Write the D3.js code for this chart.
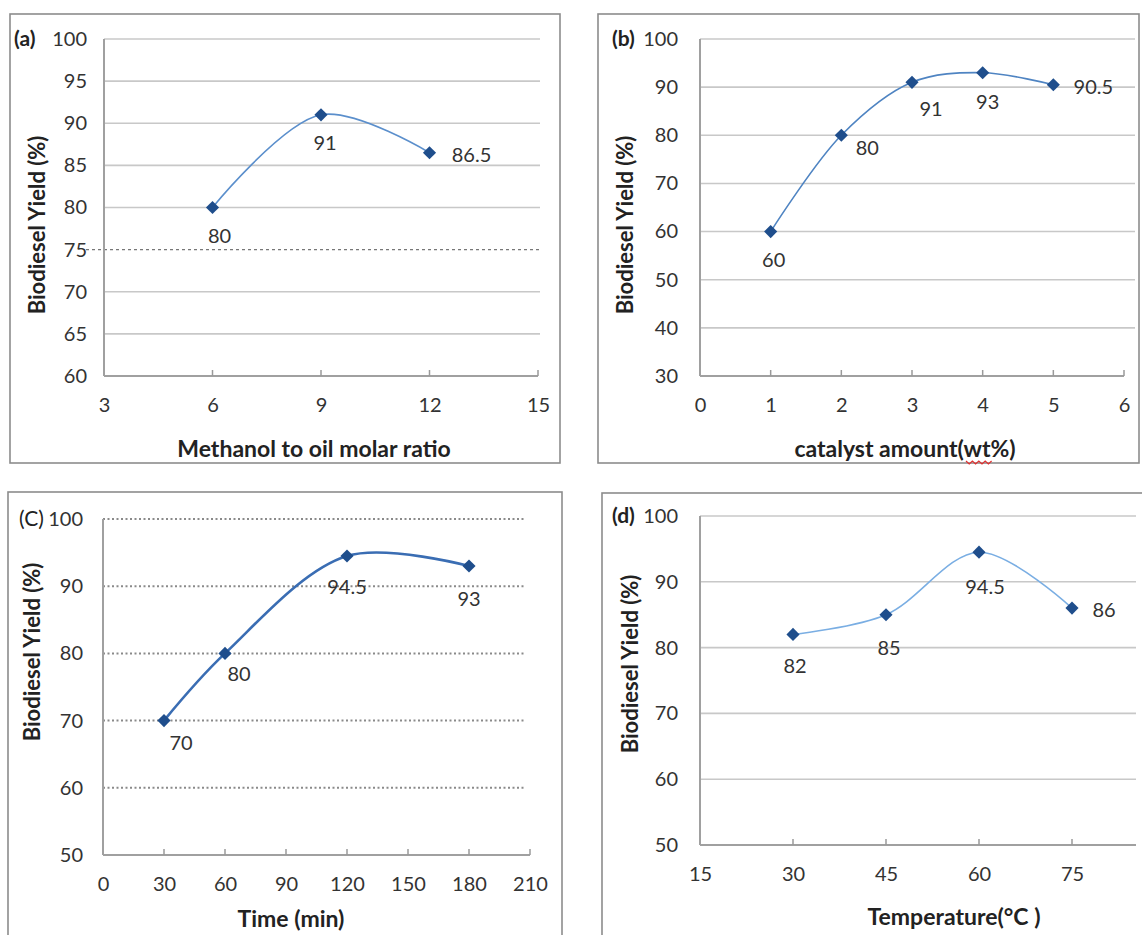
<!DOCTYPE html>
<html><head><meta charset="utf-8">
<script src="https://cdn.jsdelivr.net/npm/d3@7"></script>
<style>
html,body{margin:0;padding:0;background:#fff;}
svg{display:block;}
text{font-family:Lato, "Open Sans", sans-serif;}
</style></head>
<body>
<svg id="chart" width="1142" height="935"></svg>
<script>
// ---- Data ----
const panelTags = ["(a)", "(b)", "(C)", "(d)"];
const xTitles = ["Methanol to oil molar ratio", "catalyst amount(wt%)", "Time (min)", "Temperature(\u00B0C )"];
const yTitle = "Biodiesel Yield (%)";

const xA = [6, 9, 12];
const yA = [80, 91, 86.5];
const xTicksA = [3, 6, 9, 12, 15];
const yTicksA = [60, 65, 70, 75, 80, 85, 90, 95, 100];

const xB = [1, 2, 3, 4, 5];
const yB = [60, 80, 91, 93, 90.5];
const xTicksB = [0, 1, 2, 3, 4, 5, 6];
const yTicksB = [30, 40, 50, 60, 70, 80, 90, 100];

const xC = [30, 60, 120, 180];
const yC = [70, 80, 94.5, 93];
const xTicksC = [0, 30, 60, 90, 120, 150, 180, 210];
const yTicksC = [50, 60, 70, 80, 90, 100];

const xD = [30, 45, 60, 75];
const yD = [82, 85, 94.5, 86];
const xTicksD = [15, 30, 45, 60, 75, 90];
const yTicksD = [50, 60, 70, 80, 90, 100];

// data-label placement (style: pixel offsets of label centre from its point)
const labOffA = [[7, 28], [4, 28], [42, 2]];
const labOffB = [[3, 28], [26, 13], [19, 27], [5, 29], [40, 2]];
const labOffC = [[17, 22], [14, 21], [0, 31], [0, 33]];
const labOffD = [[2, 32], [3, 33], [6, 35], [32, 2]];

// ---- Layout ----
const panels = [
  {tag: panelTags[0], xs: xA, ys: yA, xt: xTicksA, yt: yTicksA, off: labOffA, xTitle: xTitles[0],
   box: [10, 14, 560, 463], px: [104, 538], py: [376, 39], gridEnd: 540, xTitleX: 314, xTitleY: 457,
   yTitleX: 45, yTitleY: 225, tagX: 14, tagBold: true, yPad: 17, color: "#5b8fcc", lw: 1.6, dashed: [75], dottedAll: false, clipX: null},
  {tag: panelTags[1], xs: xB, ys: yB, xt: xTicksB, yt: yTicksB, off: labOffB, xTitle: xTitles[1],
   box: [598, 14, 1139, 463], px: [700, 1124], py: [376, 39], gridEnd: 1135, xTitleX: 905, xTitleY: 457,
   yTitleX: 633, yTitleY: 225, tagX: 612, tagBold: true, yPad: 22, color: "#4f84c2", lw: 1.6, dashed: [], dottedAll: false, clipX: null},
  {tag: panelTags[2], xs: xC, ys: yC, xt: xTicksC, yt: yTicksC, off: labOffC, xTitle: xTitles[2],
   box: [8, 492, 562, 945], px: [103, 530], py: [855, 519], gridEnd: 525, xTitleX: 291, xTitleY: 927,
   yTitleX: 40, yTitleY: 652, tagX: 19, tagBold: false, yPad: 20, color: "#3a6db3", lw: 2.6, dashed: [], dottedAll: true, clipX: null},
  {tag: panelTags[3], xs: xD, ys: yD, xt: xTicksD, yt: yTicksD, off: labOffD, xTitle: xTitles[3],
   box: [602, 493, 1150, 945], px: [700, 1165], py: [845, 516], gridEnd: 1136, xTitleX: 954, xTitleY: 925,
   yTitleX: 638, yTitleY: 664, tagX: 612, tagBold: true, yPad: 22, color: "#7aaee3", lw: 1.6, dashed: [], dottedAll: false, clipX: 1136}
];

const FS = 20;
const svg = d3.select("#chart");

panels.forEach((p) => {
  const g = svg.append("g");
  const x = d3.scaleLinear().domain(d3.extent(p.xt)).range(p.px);
  const y = d3.scaleLinear().domain(d3.extent(p.yt)).range(p.py);

  // frame
  g.append("rect").attr("x", p.box[0]).attr("y", p.box[1])
    .attr("width", p.box[2] - p.box[0]).attr("height", p.box[3] - p.box[1])
    .attr("fill", "none").attr("stroke", "#8c8c8c").attr("stroke-width", 1.6);

  const axisRight = p.clipX ? p.clipX : x.range()[1];

  // gridlines
  p.yt.forEach(v => {
    if (v === y.domain()[0]) return;
    const isDash = p.dashed.includes(v);
    const line = g.append("line")
      .attr("x1", isDash ? p.px[0] - 18 : p.px[0]).attr("x2", p.gridEnd)
      .attr("y1", y(v)).attr("y2", y(v));
    if (p.dottedAll) {
      line.attr("stroke", "#8a8a8a").attr("stroke-width", 2).attr("stroke-dasharray", "2,2.5");
    } else if (isDash) {
      line.attr("stroke", "#777").attr("stroke-width", 1.2).attr("stroke-dasharray", "3,3");
    } else {
      line.attr("stroke", "#c8c8c8").attr("stroke-width", 1.6);
    }
  });

  // y axis
  const yAxis = d3.axisLeft(y).tickValues(p.yt).tickSize(0).tickPadding(p.yPad).tickFormat(d3.format("d"));
  const ya = g.append("g").attr("transform", `translate(${p.px[0]},0)`).call(yAxis);
  ya.select(".domain").remove();
  ya.selectAll("text").attr("font-size", FS).attr("fill", "#333").attr("font-family", "Lato, sans-serif");
  g.append("line").attr("x1", p.px[0]).attr("x2", p.px[0]).attr("y1", p.py[1]).attr("y2", p.py[0])
    .attr("stroke", "#a0a0a0").attr("stroke-width", 2);

  // x axis
  const xAxis = d3.axisBottom(x).tickValues(p.xt.filter(v => x(v) <= axisRight + 1)).tickSize(0).tickPadding(22).tickFormat(d3.format("d"));
  const xa = g.append("g").attr("transform", `translate(0,${p.py[0]})`).call(xAxis);
  xa.select(".domain").remove();
  xa.selectAll("text").attr("font-size", FS).attr("fill", "#333").attr("font-family", "Lato, sans-serif");
  g.append("line").attr("x1", p.px[0]).attr("x2", axisRight).attr("y1", p.py[0]).attr("y2", p.py[0])
    .attr("stroke", "#a0a0a0").attr("stroke-width", 2);
  p.xt.forEach(v => {
    if (x(v) <= p.px[0] + 1 || x(v) > axisRight + 1) return;
    g.append("line").attr("x1", x(v)).attr("x2", x(v)).attr("y1", p.py[0] - 6).attr("y2", p.py[0])
      .attr("stroke", "#9a9a9a").attr("stroke-width", 1.5);
  });

  // panel tag
  g.append("text").attr("x", p.tagX).attr("y", y(y.domain()[1])).attr("dy", "0.32em")
    .attr("font-size", 21).attr("font-weight", p.tagBold ? "bold" : "normal").attr("fill", "#222").text(p.tag);

  // titles
  g.append("text").attr("x", p.xTitleX).attr("y", p.xTitleY)
    .attr("text-anchor", "middle").attr("font-size", 23).attr("font-weight", "bold").attr("fill", "#222")
    .text(p.xTitle);
  g.append("text").attr("transform", `translate(${p.yTitleX},${p.yTitleY}) rotate(-90)`)
    .attr("text-anchor", "middle").attr("font-size", 22).attr("font-weight", "bold").attr("fill", "#222")
    .text(yTitle);

  // series
  const pts = p.xs.map((v, i) => [v, p.ys[i]]);
  const line = d3.line().x(d => x(d[0])).y(d => y(d[1])).curve(d3.curveCatmullRom.alpha(0.5));
  g.append("path").datum(pts).attr("d", line).attr("fill", "none")
    .attr("stroke", p.color).attr("stroke-width", p.lw);

  g.selectAll(".mk").data(pts).enter().append("path")
    .attr("d", d3.symbol().type(d3.symbolDiamond2).size(110))
    .attr("transform", d => `translate(${x(d[0])},${y(d[1])})`)
    .attr("fill", "#1f4e8c");

  g.selectAll(".lb").data(pts).enter().append("text")
    .attr("font-size", FS).attr("fill", "#333").attr("text-anchor", "middle")
    .attr("x", (d, i) => x(d[0]) + p.off[i][0])
    .attr("y", (d, i) => y(d[1]) + p.off[i][1])
    .attr("dy", "0.35em")
    .text(d => d[1]);
});

// spelling squiggle under "wt" in panel (b) title
(function(){
  const pts = d3.range(0, 9).map(i => [966 + i * 3.2, 462 + (i % 2 ? 2 : -1)]);
  svg.append("path").attr("d", d3.line()(pts)).attr("fill", "none").attr("stroke", "#e03030").attr("stroke-width", 1.2);
})();
</script>
</body></html>
